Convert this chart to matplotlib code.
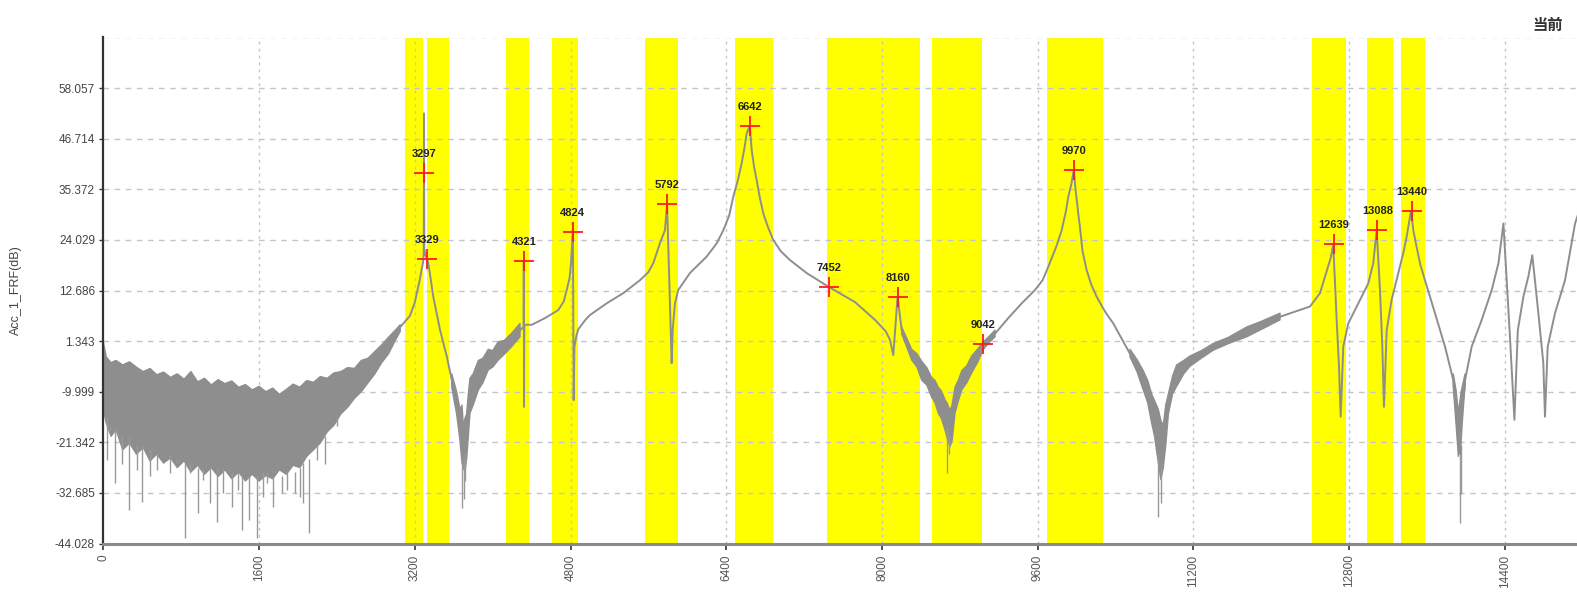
import numpy as np
import matplotlib
matplotlib.use("Agg")
import matplotlib.pyplot as plt

# ---------------- data ----------------
y_ticks = [58.057, 46.714, 35.372, 24.029, 12.686, 1.343, -9.999, -21.342, -32.685, -44.028]
y_tick_labels = ["58.057", "46.714", "35.372", "24.029", "12.686", "1.343", "-9.999", "-21.342", "-32.685", "-44.028"]
x_ticks = [0, 1600, 3200, 4800, 6400, 8000, 9600, 11200, 12800, 14400]

# highlighted frequency bands (start, end) in Hz
band_start = [3100, 3322, 4137, 4607, 5565, 6490, 7438, 8510, 9692, 12414, 12979, 13332]
band_end = [3287, 3552, 4373, 4880, 5907, 6883, 8390, 9024, 10273, 12764, 13253, 13578]

# picked peaks
peak_hz = [3297, 3329, 4321, 4824, 5792, 6642, 7452, 8160, 9042, 9970, 12639, 13088, 13440]
peak_db = [38.96, 19.68, 19.37, 25.87, 32.07, 49.56, 13.54, 11.3, 0.69, 39.7, 23.04, 26.25, 30.5]

# FRF main trace (clean part)
curve_hz = [3050, 3150, 3200, 3250, 3285, 3292, 3295, 3298, 3310, 3329, 3345, 3390, 3460, 3530,
            3580, 3630, 3665, 3700, 3733, 3767, 3853, 3955, 4058, 4195, 4281, 4318, 4320, 4322,
            4326, 4401, 4538, 4674, 4730, 4761, 4790, 4805, 4824, 4827, 4832, 4840, 4860, 4880, 4949, 5000, 5171,
            5342, 5514, 5600, 5650, 5719, 5770, 5792, 5815, 5839, 5849, 5873, 5907, 6027, 6199, 6300, 6370,
            6430, 6472, 6520, 6558, 6590, 6610, 6642, 6661, 6685, 6712, 6745, 6780, 6830, 6883, 6960, 7055, 7226, 7452, 7722, 7928, 8040, 8082,
            8116, 8135, 8160, 8202, 8305, 8408, 8510, 8578, 8647, 8698, 8750, 8819, 8921, 9042,
            9161, 9297, 9435, 9572, 9650, 9708, 9790, 9846, 9890, 9914, 9945, 9970, 9990, 10016, 10033, 10060, 10102, 10150, 10205, 10290, 10376,
            10548, 10684, 10770, 10839, 10870, 10890, 10942, 11027, 11164, 11403, 11746, 12089,
            12397, 12500, 12568, 12610, 12636, 12671, 12695, 12712, 12739, 12790, 12893, 12996,
            13047, 13082, 13116, 13140, 13157, 13185, 13236, 13304, 13360, 13390, 13434, 13460, 13492, 13530, 13578,
            13681, 13784, 13869, 13921, 13940, 13955, 13990, 14058, 14161, 14264, 14333, 14384,
            14418, 14453, 14497, 14532, 14589, 14640, 14681, 14743, 14794, 14811, 14839, 14914,
            15017, 15120, 15200]
curve_db = [4.5, 7.0, 10.0, 15.0, 19.0, 21.0, 52.4, 22.0, 20.5, 19.7, 18.0, 11.3, 3.8, -2.2,
            -7.4, -12.6, -18.0, -23.0, -20.0, -11.0, -6.5, -3.0, -1.0, 1.6, 3.8, 4.5, 19.4, -13.4,
            5.0, 5.0, 6.5, 8.3, 10.2, 12.8, 15.5, 18.8, 26.0, 14.0, -11.9, 0.0, 2.5, 4.0, 6.0, 7.2, 9.8,
            12.1, 15.0, 16.8, 18.8, 23.3, 26.2, 32.1, 14.3, -3.6, 3.8, 9.8, 12.8, 16.6, 20.3, 23.2, 26.2,
            29.5, 33.7, 37.5, 41.2, 45.0, 47.9, 49.6, 44.2, 40.5, 37.5, 33.5, 30.0, 26.8, 24.0, 21.5, 19.5, 16.6, 13.5, 10.1, 6.1, 3.5, 1.6,
            -1.8, 4.0, 11.3, 3.8, -1.8, -5.5, -9.3, -12.0, -15.5, -18.5, -12.0, -7.7, -4.0, 0.7,
            3.0, 6.5, 9.8, 12.8, 15.0, 18.0, 22.5, 26.2, 30.5, 33.7, 36.5, 39.7, 35.0, 30.0, 27.0, 21.5, 17.3, 14.0, 11.3, 8.0, 5.3,
            -1.5, -7.7, -14.0, -20.0, -24.0, -22.0, -13.0, -6.5, -3.2, 0.0, 3.4, 6.8,
            9.1, 12.1, 17.0, 20.0, 23.0, 6.1, -4.4, -15.6, 0.1, 5.3, 9.8, 14.3,
            18.8, 26.2, 12.8, 0.1, -13.4, 3.8, 10.6, 16.6, 21.5, 24.7, 30.5, 26.0, 22.5, 18.5, 15.0,
            7.6, 0.1, -7.4, -20.0, -24.0, -18.0, -7.4, 0.1, 6.1, 12.8, 18.8, 27.7,
            15.0, 1.6, -16.3, 3.8, 11.3, 15.8, 20.6, 7.6, -3.6, -15.6, 0.1, 7.6,
            15.0, 27.7, 33.0]

# noisy envelope of the trace (NaN separates segments)
noise_hz = [0, 30, 80, 130, 200, 270, 340, 410, 480, 550, 620, 690, 760, 830, 900, 970, 1040, 1110,
            1180, 1250, 1320, 1390, 1460, 1530, 1600, 1670, 1740, 1810, 1880, 1950, 2020, 2090, 2160,
            2230, 2300, 2370, 2440, 2510, 2580, 2650, 2720, 2790, 2860, 2930, 3000, 3050, np.nan,
            3580, 3630, 3665, 3685, 3700, 3715, 3733, 3750, 3767, 3800, 3853, 3900, 3955, 4000, 4058, 4120, 4195, 4281, np.nan,
            8202, 8305, 8360, 8408, 8460, 8510, 8545, 8578, 8610, 8647, 8670, 8698, 8720, 8750, 8785,
            8819, 8870, 8921, 8980, 9042, 9100, 9161, np.nan,
            10548, 10620, 10684, 10730, 10770, 10800, 10839, 10865, 10890, 10915, 10942, 10985, 11027,
            11100, 11164, 11280, 11403, 11560, 11746, 11900, 12089, np.nan,
            13869, 13900, 13921, 13950, 13990]
noise_hi = [1.2, -2.2, -3.5, -3.0, -4.0, -3.3, -4.5, -5.5, -4.8, -6.2, -5.6, -6.8, -6.0, -7.2, -5.5, -7.8, -7.0, -8.5,
            -7.3, -8.2, -7.6, -9.0, -8.4, -9.6, -8.8, -10.0, -9.2, -10.6, -9.5, -8.3, -9.0, -7.5, -7.9,
            -6.6, -7.0, -5.8, -5.5, -4.6, -4.8, -3.0, -2.5, -1.0, 0.5, 2.2, 3.8, 5.0, np.nan,
            -6.0, -10.0, -14.0, -13.0, -18.0, -16.0, -15.0, -10.5, -7.0, -6.0, -3.0, -2.5, -0.5, -0.8, 1.2, 1.5, 3.1, 5.3, np.nan,
            4.5, -0.5, -1.5, -3.2, -4.6, -6.8, -7.5, -9.0, -9.8, -11.8, -12.6, -14.2, -13.0, -9.0, -7.4,
            -5.3, -4.2, -2.0, -0.5, 1.2, 2.4, 3.8, np.nan,
            -0.5, -2.8, -5.3, -7.5, -10.5, -12.0, -14.0, -16.5, -17.5, -13.0, -10.5, -6.5, -4.0,
            -3.0, -2.0, -0.8, 0.8, 2.2, 4.5, 5.8, 7.6, np.nan,
            -6.0, -10.0, -14.8, -10.0, -6.0]
noise_lo = [-14.0, -17.0, -20.0, -18.5, -23.0, -21.5, -24.0, -22.5, -25.5, -24.0, -26.0, -24.8, -27.0, -25.5, -28.0, -26.5, -28.5, -27.0,
            -29.0, -27.5, -29.5, -28.0, -30.0, -28.5, -30.0, -28.8, -29.5, -27.5, -28.5, -26.5, -27.0, -24.5, -23.0,
            -21.5, -19.0, -17.5, -15.0, -13.5, -11.5, -10.0, -8.0, -6.0, -3.5, -1.5, 1.5, 3.5, np.nan,
            -9.0, -15.0, -21.0, -26.0, -27.0, -28.0, -25.0, -20.0, -14.8, -13.0, -9.6, -8.0, -5.1, -4.5, -2.9, -1.6, 0.1, 2.3, np.nan,
            3.0, -2.9, -4.5, -7.4, -8.5, -11.2, -12.5, -14.8, -16.0, -18.5, -20.5, -22.3, -21.0, -14.8, -12.0,
            -9.6, -8.0, -5.8, -3.5, -0.5, 1.0, 2.3, np.nan,
            -2.2, -5.5, -9.6, -12.5, -17.0, -20.0, -26.0, -29.7, -27.0, -22.0, -15.0, -10.5, -8.8,
            -6.0, -4.3, -2.5, -0.7, 0.8, 2.3, 4.0, 6.1, np.nan,
            -9.0, -18.0, -24.5, -16.0, -9.0]

# isolated downward noise spikes (freq, top, bottom)
spike_hz = [35, 69, 120, 189, 267, 343, 394, 480, 548, 685, 754, 839, 891, 976, 1028, 1096, 1171,
            1233, 1319, 1387, 1422, 1500, 1576, 1644, 1678, 1747, 1839, 1884, 1969, 2021, 2055, 2116,
            2192, 2278, 2397,
            3690, 3710, 3720, 8664, 8690, 10839, 10870, 13935, 13945]
spike_top = [-16, -18, -18, -20, -20, -22, -22, -23, -24, -24, -26, -26, -26, -27, -27, -27, -27,
             -27, -28, -28, -29, -29, -29, -28, -28, -29, -29, -28, -28, -27, -26, -25,
             -22, -20, -16,
             -25, -25, -24, -18, -20, -24, -26, -22, -22]
spike_bot = [-25.3, -18.6, -30.5, -26.1, -36.5, -27.5, -34.7, -29.0, -27.5, -28.3, -25.3, -42.9, -28.3, -37.3, -29.8, -35.0, -39.1,
             -32.8, -35.8, -32.0, -41.0, -38.8, -42.9, -33.5, -30.5, -35.8, -32.8, -32.0, -32.8, -33.5, -35.0, -41.7,
             -25.3, -26.1, -17.8,
             -36.0, -34.0, -30.0, -28.3, -24.0, -38.0, -35.0, -39.5, -33.0]

# ---------------- plot ----------------
plt.rcParams['font.family'] = ['Liberation Sans', 'DejaVu Sans']
W, H = 1577, 597
fig = plt.figure(figsize=(W / 100, H / 100), dpi=100)
ax = fig.add_axes([103.3 / W, (H - 543.5) / H, 1 - 103.3 / W + 0.01, (543.5 - 37.5) / H])

ymin, ymax = -44.028, 69.4
ax.set_xlim(0, 15140 * (1 - 103.3 / W + 0.01) / (1 - 103.3 / W))
ax.set_ylim(ymin, ymax)

for s, e in zip(band_start, band_end):
    ax.axvspan(s, e, color='#ffff00', lw=0, zorder=0)

grid_col = '#c4c4cc'
for yt in y_ticks[:-1] + [ymax]:
    ax.axhline(yt, color=grid_col, lw=1.0, ls=(0, (4, 4)), zorder=1)
for xt in x_ticks[1:]:
    ax.axvline(xt, color=grid_col, lw=1.0, ls=(0, (2, 3)), zorder=1)

trace_col = '#8e8e8e'
ax.fill_between(noise_hz, noise_lo, noise_hi, color=trace_col, lw=1.0, edgecolor=trace_col, zorder=2)
ax.vlines(spike_hz, spike_bot, spike_top, color='#999999', lw=1.0, zorder=2)
ax.plot(curve_hz, curve_db, color=trace_col, lw=1.4, zorder=3)

ax.plot(peak_hz, peak_db, ls='none', marker='+', ms=15, mew=1.3, color='#ff1a1a', zorder=5)
for hz, db in zip(peak_hz, peak_db):
    ax.annotate(str(hz), (hz, db), xytext=(0, 10), textcoords='offset points',
                ha='center', va='bottom', fontsize=8, fontweight='bold', color='#222222', zorder=6)

for side in ['top', 'right']:
    ax.spines[side].set_visible(False)
ax.spines['left'].set_color('#333333')
ax.spines['left'].set_linewidth(1.6)
ax.spines['bottom'].set_color('#8a8a8a')
ax.spines['bottom'].set_linewidth(2.2)

ax.set_yticks(y_ticks)
ax.set_yticklabels(y_tick_labels)
ax.set_xticks(x_ticks)
ax.set_xticklabels([str(v) for v in x_ticks], rotation=90, va='top')
ax.tick_params(axis='y', length=3, width=1, color='#333333', labelsize=8.5, labelcolor='#444444', pad=3)
ax.tick_params(axis='x', length=4, width=1.2, color='#333333', labelsize=8.5, labelcolor='#555555', pad=4)

ax.set_ylabel('Acc_1_FRF(dB)', fontsize=9, color='#444444')
ax.yaxis.set_label_coords(-81.3 / (W * (1 - 103.3 / W + 0.01)), 0.5)

fig.text(1532 / W, 1 - 25 / H, '当前', fontsize=11, fontweight='bold', color='#333333',
         family=['Noto Sans CJK SC', 'DejaVu Sans'], ha='left', va='center')

fig.savefig('out.png', dpi=100)
